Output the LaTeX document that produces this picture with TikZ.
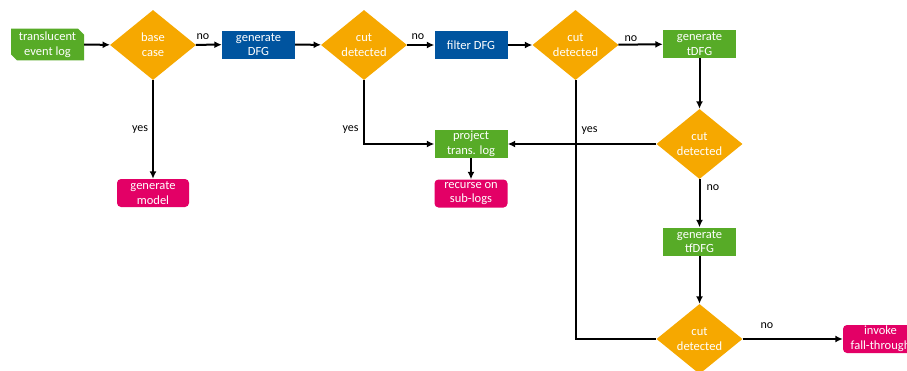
\documentclass[tikz,border=0pt]{standalone}
\usepackage{fontspec}
\setmainfont{Carlito}
\usetikzlibrary{shapes.geometric,shapes.misc,arrows.meta}
\definecolor{rwthblue}{HTML}{00549F}
\definecolor{rwthgreen}{HTML}{57AB27}
\definecolor{rwthorange}{HTML}{F6A800}
\definecolor{rwthmagenta}{HTML}{E30066}
\begin{document}
\begin{tikzpicture}[x=1pt,y=-1pt,
  box/.style={fill=#1, text=white, inner sep=0pt, minimum width=73pt, minimum height=28pt, align=center, font=\fontsize{12.5}{14.8}\selectfont},
  dec/.style={diamond, fill=rwthorange, text=white, inner sep=0pt, minimum width=86pt, minimum height=70pt, align=center, font=\fontsize{12.5}{14.8}\selectfont},
  term/.style={box=rwthmagenta, rounded corners=4pt},
  src/.style={box=rwthgreen, chamfered rectangle, chamfered rectangle corners={north east,south west}, chamfered rectangle xsep=3pt, chamfered rectangle ysep=3pt},
  ln/.style={line width=2pt, draw=black},
  arr/.style={ln, -{Latex[length=7.5pt,width=7pt]}},
  lab/.style={font=\fontsize{12}{13}\selectfont, text=black, inner sep=0pt}]
\path[use as bounding box] (0,0) rectangle (907,370);
\clip (0,0) rectangle (907,370);
% nodes
\node[src] (tel) at (47.5,44.5) {translucent\\event log};
\node[dec] (base) at (153,45) {base\\case};
\node[box=rwthblue] (gdfg) at (258.5,44.5) {generate\\DFG};
\node[dec] (cut1) at (364,45) {cut\\detected};
\node[box=rwthblue] (filter) at (471,45) {filter DFG};
\node[dec] (cut2) at (575.5,45) {cut\\detected};
\node[box=rwthgreen] (gtdfg) at (699.5,44) {generate\\tDFG};
\node[dec] (cut3) at (699.5,144) {cut\\detected};
\node[box=rwthgreen] (gtfdfg) at (699.5,241.5) {generate\\tfDFG};
\node[dec] (cut4) at (699.5,339) {cut\\detected};
\node[term, minimum width=75pt] (invoke) at (880.5,339) {invoke\\fall-through};
\node[term, minimum width=72pt] (gmodel) at (153,193) {generate\\model};
\node[box=rwthgreen] (project) at (471,144) {project\\trans. log};
\node[term] (recurse) at (471,193.5) {recurse on\\sub-logs};
% connectors
\draw[arr] (tel) -- (base);
\draw[arr] (base) -- (gdfg);
\draw[arr] (gdfg) -- (cut1);
\draw[arr] (cut1) -- (filter);
\draw[arr] (filter) -- (cut2);
\draw[arr] (cut2) -- (gtdfg);
\draw[arr] (base.south) -- (gmodel.north);
\draw[arr] (cut1.south) |- (project.west);
\draw[ln] (cut2.south) |- (cut4.west);
\draw[arr] (cut3.west) -- (project.east);
\draw[arr] (gtdfg.south) -- (cut3.north);
\draw[arr] (cut3.south) -- (gtfdfg.north);
\draw[arr] (gtfdfg.south) -- (cut4.north);
\draw[arr] (cut4.east) -- (invoke.west);
\draw[arr] (project.south) -- (recurse.north);
% labels
\node[lab] (l1) at (203,37) {no};
\node[lab] (l2) at (418,37) {no};
\node[lab] (l3) at (631,38.5) {no};
\node[lab] (l4) at (140,130) {yes};
\node[lab] (l5) at (350.5,130) {yes};
\node[lab] (l6) at (589.5,131) {yes};
\node[lab] (l7) at (713,188) {no};
\node[lab] (l8) at (767,326) {no};
\end{tikzpicture}
\end{document}
